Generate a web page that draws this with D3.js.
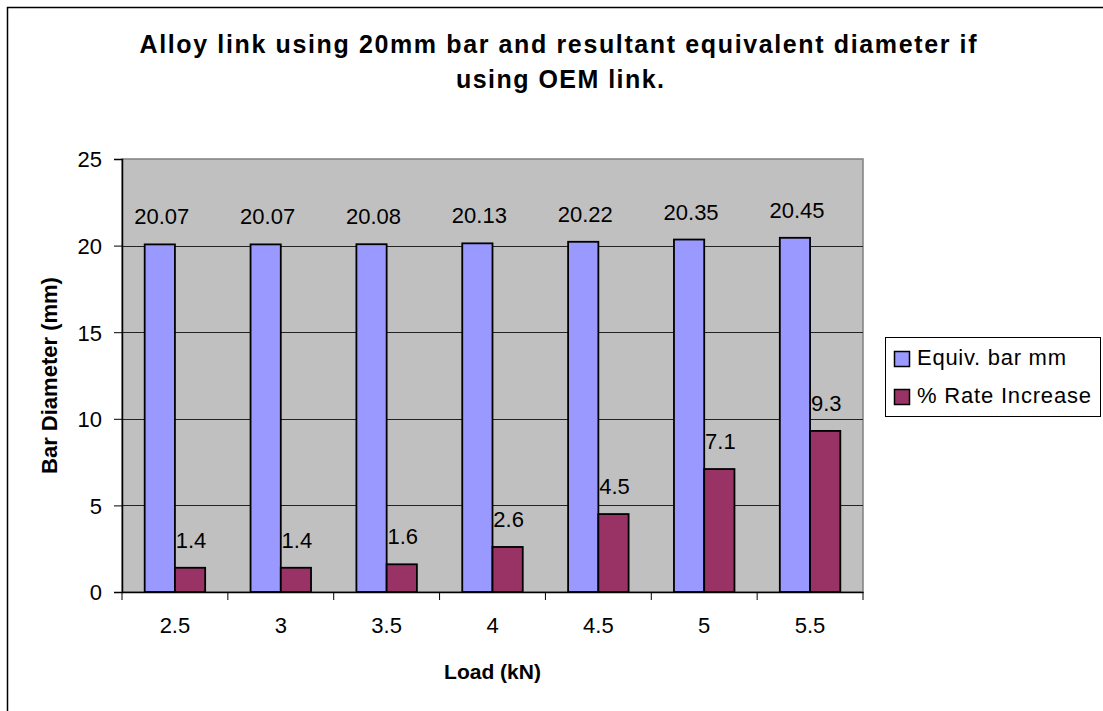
<!DOCTYPE html>
<html>
<head>
<meta charset="utf-8">
<script src="https://cdn.jsdelivr.net/npm/d3@7"></script>
<style>
  html, body { margin: 0; padding: 0; background: #fff; }
  svg { display: block; font-family: Arial, "Liberation Sans", sans-serif; }
</style>
</head>
<body>
<svg id="chart" width="1103" height="711"></svg>
<script>
const categories = ["2.5", "3", "3.5", "4", "4.5", "5", "5.5"];
const seriesNames = ["Equiv. bar mm", "% Rate Increase"];
const equivBar = [20.07, 20.07, 20.08, 20.13, 20.22, 20.35, 20.45];
const rateIncrease = [1.4, 1.4, 1.6, 2.6, 4.5, 7.1, 9.3];
const yTicks = [0, 5, 10, 15, 20, 25];
const titleLines = ["Alloy link using 20mm bar and resultant equivalent diameter if", "using OEM link."];
const xTitle = "Load (kN)";
const yTitle = "Bar Diameter (mm)";

const colors = ["#9999FF", "#993366"];
const seriesData = [equivBar, rateIncrease];

const svg = d3.select("#chart");

// outer chart border
svg.append("rect")
  .attr("x", 7.5).attr("y", 7.5).attr("width", 1110).attr("height", 720)
  .attr("fill", "#fff").attr("stroke", "#000").attr("stroke-width", 1.5);

const plot = { left: 122, right: 863, top: 159, bottom: 592 };

const x = d3.scaleBand().domain(categories).range([plot.left, plot.right]).paddingInner(0).paddingOuter(0);
const xs = d3.scaleBand().domain(seriesNames).range([0, x.bandwidth()]).paddingInner(0).paddingOuter(0.75);
const y = d3.scaleLinear().domain([0, 25]).range([plot.bottom, plot.top]);

// plot background
svg.append("rect")
  .attr("x", plot.left).attr("y", plot.top)
  .attr("width", plot.right - plot.left).attr("height", plot.bottom - plot.top)
  .attr("fill", "#C0C0C0").attr("stroke", "#808080").attr("stroke-width", 1.5);

// gridlines
svg.append("g").selectAll("line")
  .data(yTicks.filter(t => t > 0 && t < 25))
  .join("line")
  .attr("x1", plot.left).attr("x2", plot.right)
  .attr("y1", d => Math.round(y(d)) + 0.5).attr("y2", d => Math.round(y(d)) + 0.5)
  .attr("stroke", "#222").attr("stroke-width", 1);

// bars
const groups = svg.append("g").selectAll("g")
  .data(categories)
  .join("g")
  .attr("transform", d => `translate(${x(d)},0)`);

seriesNames.forEach((s, si) => {
  groups.append("rect")
    .attr("x", xs(s))
    .attr("width", xs.bandwidth())
    .attr("y", (d, i) => y(seriesData[si][i]))
    .attr("height", (d, i) => y(0) - y(seriesData[si][i]))
    .attr("fill", colors[si])
    .attr("stroke", "#000").attr("stroke-width", 1.8);
});

// data labels
seriesNames.forEach((s, si) => {
  groups.append("text")
    .attr("x", xs(s) + xs.bandwidth() / 2 + (si === 0 ? 2 : 1))
    .attr("y", (d, i) => y(seriesData[si][i]) - 20)
    .attr("text-anchor", "middle")
    .attr("font-size", 22)
    .attr("fill", "#000")
    .text((d, i) => seriesData[si][i].toFixed(si === 0 ? 2 : 1));
});

// y axis
const yAxis = d3.axisLeft(y).tickValues(yTicks).tickSize(8).tickPadding(12).tickFormat(d3.format("d"));
const yg = svg.append("g").attr("transform", `translate(${plot.left},0)`).call(yAxis);
yg.select(".domain").attr("stroke", "#000").attr("stroke-width", 1.5);
yg.selectAll(".tick line").attr("stroke", "#000");
yg.selectAll(".tick text").attr("font-size", 22).attr("font-family", "Arial, 'Liberation Sans', sans-serif").attr("fill", "#000").attr("dy", "0.36em");

// x axis
const xAxis = d3.axisBottom(x).tickSize(0).tickPadding(25);
const xg = svg.append("g").attr("transform", `translate(0,${plot.bottom})`).call(xAxis);
xg.select(".domain").attr("stroke", "#000").attr("stroke-width", 1.5);
xg.selectAll(".tick text").attr("font-size", 22).attr("font-family", "Arial, 'Liberation Sans', sans-serif").attr("fill", "#000");
// category boundary ticks
const bounds = categories.map(c => x(c)).concat([x(categories[categories.length - 1]) + x.bandwidth()]);
svg.append("g").selectAll("line").data(bounds).join("line")
  .attr("x1", d => d).attr("x2", d => d)
  .attr("y1", plot.bottom).attr("y2", plot.bottom + 8)
  .attr("stroke", "#000").attr("stroke-width", 1);

// titles
const cx = (plot.left + plot.right) / 2;
svg.append("text")
  .attr("x", 558).attr("y", 53)
  .attr("text-anchor", "middle").attr("font-weight", "bold").attr("font-size", 25)
  .attr("textLength", 837).attr("lengthAdjust", "spacing")
  .text(titleLines[0]);
svg.append("text")
  .attr("x", 560).attr("y", 88)
  .attr("text-anchor", "middle").attr("font-weight", "bold").attr("font-size", 25)
  .attr("textLength", 208).attr("lengthAdjust", "spacing")
  .text(titleLines[1]);

svg.append("text")
  .attr("x", cx).attr("y", 679)
  .attr("text-anchor", "middle").attr("font-weight", "bold").attr("font-size", 21)
  .text(xTitle);

svg.append("text")
  .attr("transform", `translate(57,${(plot.top + plot.bottom) / 2}) rotate(-90)`)
  .attr("text-anchor", "middle").attr("font-weight", "bold").attr("font-size", 22)
  .text(yTitle);

// legend
const lg = svg.append("g");
lg.append("rect")
  .attr("x", 885.5).attr("y", 337.5).attr("width", 215).attr("height", 79)
  .attr("fill", "#fff").attr("stroke", "#000").attr("stroke-width", 1);
const legendLengths = [149, 174];
seriesNames.forEach((s, i) => {
  lg.append("rect")
    .attr("x", 894.5).attr("y", 351.5 + i * 38).attr("width", 15).attr("height", 15)
    .attr("fill", colors[i]).attr("stroke", "#000").attr("stroke-width", 1.5);
  lg.append("text")
    .attr("x", 917).attr("y", 365 + i * 38)
    .attr("font-size", 22)
    .attr("textLength", legendLengths[i]).attr("lengthAdjust", "spacing")
    .text(s);
});
</script>
</body>
</html>
